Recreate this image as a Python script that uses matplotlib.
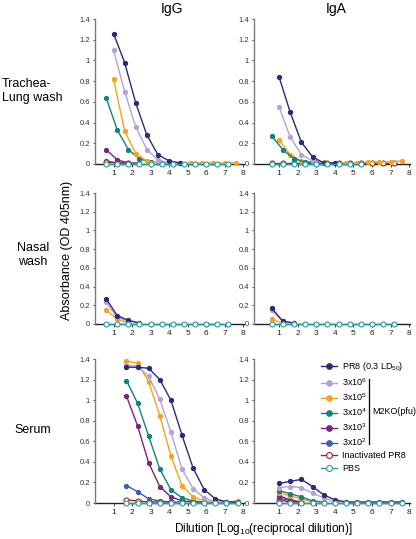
import matplotlib
matplotlib.use("Agg")
import matplotlib.pyplot as plt
from matplotlib.lines import Line2D

plt.rcParams["font.family"] = ["Liberation Sans", "DejaVu Sans"]
plt.rcParams["mathtext.fontset"] = "custom"
plt.rcParams["mathtext.rm"] = "Liberation Sans"
plt.rcParams["mathtext.it"] = "Liberation Sans:italic"

# dilution grids, log10(reciprocal dilution), 4-fold steps
X_A = [1.0, 1.6, 2.2, 2.8, 3.4, 4.0, 4.6, 5.2, 5.8, 6.4, 7.0, 7.6]
X_B = [0.6, 1.2, 1.8, 2.4, 3.0, 3.6, 4.2, 4.8, 5.4, 6.0, 6.6, 7.2]
X_C = [1.7, 2.3, 2.9, 3.5, 4.1, 4.7, 5.3, 5.9, 6.5, 7.1, 7.7]

GROUPS = ["PR8 (0.3 LD$_{50}$)", "3x10$^6$", "3x10$^5$", "3x10$^4$",
          "3x10$^3$", "3x10$^2$", "Inactivated PR8", "PBS"]
COLORS = ["#2b2a7c", "#b7a2d6", "#f5a31f", "#138377",
          "#7a2580", "#3f5db2", "#8c2c2c", "#2a9ca3"]
OPEN = [False, False, False, False, False, False, True, True]

# trachea-lung wash, IgG
TL_IGG_PR8 = [1.26, 0.98, 0.59, 0.28, 0.09, 0.03, 0.01]
TL_IGG_E6 = [1.10, 0.70, 0.36, 0.14, 0.04, 0.01, 0.01]
TL_IGG_E5 = [0.82, 0.32, 0.10, 0.03, 0.01, 0.01, 0.01, 0.01, 0.01, 0.01, 0.01, 0.01]
TL_IGG_E4 = [0.64, 0.33, 0.14, 0.05, 0.02, 0.01, 0.01]
TL_IGG_E3 = [0.14, 0.04, 0.01, 0.01]
TL_IGG_E2 = [0.03, 0.01, 0.01]
TL_IGG_INACT = [0.02, 0.01, 0.01]
TL_IGG_PBS = [0] * 12

# trachea-lung wash, IgA
TL_IGA_PR8 = [0.84, 0.50, 0.21, 0.07, 0.01, 0.01]
TL_IGA_E6 = [0.55, 0.26, 0.09, 0.03, 0.01]
TL_IGA_E5 = [0.23, 0.09, 0.03, 0.02, 0.02, 0.01, 0.01, 0.01, 0.02, 0.02, 0.02, 0.03]
TL_IGA_E4 = [0.27, 0.14, 0.05, 0.02, 0.01]
TL_IGA_INACT = [0.01] * 12
TL_IGA_PBS = [0] * 9

# nasal wash
NW_IGG_PR8 = [0.27, 0.09, 0.04, 0.01]
NW_IGG_E6 = [0.23, 0.07, 0.03, 0.01]
NW_IGG_E5 = [0.15, 0.05, 0.01]
NW_IGG_PBS = [0] * 12
NW_IGA_PR8 = [0.17, 0.03, 0.01]
NW_IGA_E6 = [0.15, 0.03, 0.01]
NW_IGA_E5 = [0.05, 0.01]
NW_IGA_PBS = [0] * 12

# serum, IgG
SE_IGG_PR8 = [1.32, 1.32, 1.31, 1.20, 1.00, 0.66, 0.34, 0.13, 0.04, 0.01, 0.01]
SE_IGG_E6 = [1.34, 1.33, 1.23, 1.01, 0.69, 0.33, 0.14, 0.05, 0.01, 0.01, 0.01]
SE_IGG_E5 = [1.38, 1.36, 1.18, 0.85, 0.46, 0.17, 0.06, 0.02, 0.01, 0.01, 0.02]
SE_IGG_E4 = [1.19, 0.97, 0.65, 0.33, 0.13, 0.05, 0.02, 0.01, 0.01, 0.01, 0.01]
SE_IGG_E3 = [1.04, 0.75, 0.39, 0.16, 0.06, 0.02, 0.01, 0.01]
SE_IGG_E2 = [0.17, 0.11, 0.04, 0.02, 0.01, 0.01]
SE_IGG_INACT = [0.03, 0.02, 0.01, 0.01, 0.01]
SE_IGG_PBS = [0] * 11

# serum, IgA
SE_IGA_PR8 = [0.19, 0.21, 0.23, 0.16, 0.08, 0.03, 0.01, 0.01, 0.01, 0.01, 0.01, 0.01]
SE_IGA_E6 = [0.15, 0.16, 0.15, 0.095, 0.05, 0.01, 0.01]
SE_IGA_E5 = [0.10, 0.07, 0.04, 0.01]
SE_IGA_E4 = [0.12, 0.09, 0.06, 0.02, 0.01]
SE_IGA_E3 = [0.07, 0.03, 0.01]
SE_IGA_E2 = [0.05, 0.02, 0.01]
SE_IGA_INACT = [0.03, 0.01, 0.01]
SE_IGA_PBS = [0] * 12

# (group index, x grid, values) per panel, drawing order
panels = {
    (0, 0): [(5, X_B, TL_IGG_E2), (6, X_B, TL_IGG_INACT), (4, X_B, TL_IGG_E3),
             (3, X_B, TL_IGG_E4), (2, X_A, TL_IGG_E5), (1, X_A, TL_IGG_E6),
             (0, X_A, TL_IGG_PR8), (7, X_B, TL_IGG_PBS)],
    (0, 1): [(6, X_B, TL_IGA_INACT), (2, X_A, TL_IGA_E5), (3, X_B, TL_IGA_E4),
             (1, X_A, TL_IGA_E6), (0, X_A, TL_IGA_PR8), (7, X_B, TL_IGA_PBS)],
    (1, 0): [(2, X_B, NW_IGG_E5), (1, X_B, NW_IGG_E6), (0, X_B, NW_IGG_PR8),
             (7, X_B, NW_IGG_PBS)],
    (1, 1): [(2, X_B, NW_IGA_E5), (1, X_B, NW_IGA_E6), (0, X_B, NW_IGA_PR8),
             (7, X_B, NW_IGA_PBS)],
    (2, 0): [(6, X_C, SE_IGG_INACT), (5, X_C, SE_IGG_E2), (4, X_C, SE_IGG_E3),
             (3, X_C, SE_IGG_E4), (2, X_C, SE_IGG_E5), (1, X_C, SE_IGG_E6),
             (0, X_C, SE_IGG_PR8), (7, X_C, SE_IGG_PBS)],
    (2, 1): [(6, X_A, SE_IGA_INACT), (5, X_A, SE_IGA_E2), (4, X_A, SE_IGA_E3),
             (2, X_A, SE_IGA_E5), (3, X_A, SE_IGA_E4), (1, X_A, SE_IGA_E6),
             (0, X_A, SE_IGA_PR8), (7, X_A, SE_IGA_PBS)],
}

W, H = 416, 539
fig = plt.figure(figsize=(W / 100, H / 100), dpi=100)

col_px = [(95, 244, (0, 8.05)), (254, 410, (-0.35, 8.05))]
row_px = [(19, 164), (193, 324), (359, 503)]

axes = {}
for r, (top, bot) in enumerate(row_px):
    for c, (left, right, xl) in enumerate(col_px):
        ax = fig.add_axes([left / W, 1 - bot / H, (right - left) / W, (bot - top) / H])
        axes[(r, c)] = ax
        for g, xs, ys in panels[(r, c)]:
            ax.plot(xs[:len(ys)], ys, color=COLORS[g], lw=1.0, marker="o",
                    ms=3.6 if OPEN[g] else 3.0,
                    mfc="white" if OPEN[g] else COLORS[g],
                    mec=COLORS[g], mew=0.8, clip_on=False)
        ax.set_xlim(*xl)
        ax.set_ylim(0, 1.4)
        ax.set_xticks(range(1, 9))
        ax.set_yticks([0, 0.2, 0.4, 0.6, 0.8, 1.0, 1.2, 1.4])
        ax.set_yticklabels([f"{v:g}" for v in ax.get_yticks()])
        for s in ("top", "right"):
            ax.spines[s].set_visible(False)
        ax.spines["left"].set_color("#7a7a7a")
        ax.spines["left"].set_linewidth(1.0)
        ax.spines["bottom"].set_color("#222222")
        ax.spines["bottom"].set_linewidth(1.0)
        ax.spines["bottom"].set_zorder(0.5)
        ax.tick_params(axis="x", length=2, width=0.6, pad=2, labelsize=6, colors="#222222")
        ax.tick_params(axis="y", length=1.5, width=0.6, pad=2, labelsize=5.5, colors="#333333")
        ax.patch.set_visible(False)

fig.text(172 / W, 1 - 9 / H, "IgG", ha="center", va="center", fontsize=10)
fig.text(336 / W, 1 - 9 / H, "IgA", ha="center", va="center", fontsize=10)

fig.text(2 / W, 1 - 91 / H, "Trachea-\nLung wash", ha="left", va="center",
         fontsize=9, linespacing=1.3)
fig.text(33 / W, 1 - 255 / H, "Nasal\nwash", ha="center", va="center",
         fontsize=9, linespacing=1.3)
fig.text(33 / W, 1 - 430 / H, "Serum", ha="center", va="center", fontsize=9)

fig.text(67 / W, 1 - 250 / H, "Absorbance (OD 405nm)", ha="center", va="center",
         rotation=90, fontsize=9)
fig.text(263 / W, 1 - 529 / H, "Dilution [Log$_{10}$(reciprocal dilution)]",
         ha="center", va="center", fontsize=8.5)

# legend in the serum IgA panel
ax = axes[(2, 1)]
handles = [Line2D([], [], color=COLORS[g], lw=1.0, marker="o",
                  ms=4.2 if OPEN[g] else 4.0,
                  mfc="white" if OPEN[g] else COLORS[g], mec=COLORS[g], mew=0.8)
           for g in range(len(GROUPS))]
ax.legend(handles, GROUPS, loc="upper left", bbox_to_anchor=(0.43, 0.99),
          frameon=False, fontsize=6.5, handlelength=1.8, handletextpad=0.5,
          labelspacing=0.36, borderpad=0, borderaxespad=0)
ax.plot([0.735, 0.735], [0.41, 0.86], color="black", lw=0.9,
        transform=ax.transAxes, clip_on=False)
ax.text(0.755, 0.635, "M2KO(pfu)", transform=ax.transAxes, ha="left",
        va="center", fontsize=6.5)

fig.savefig("out.png", dpi=100)
